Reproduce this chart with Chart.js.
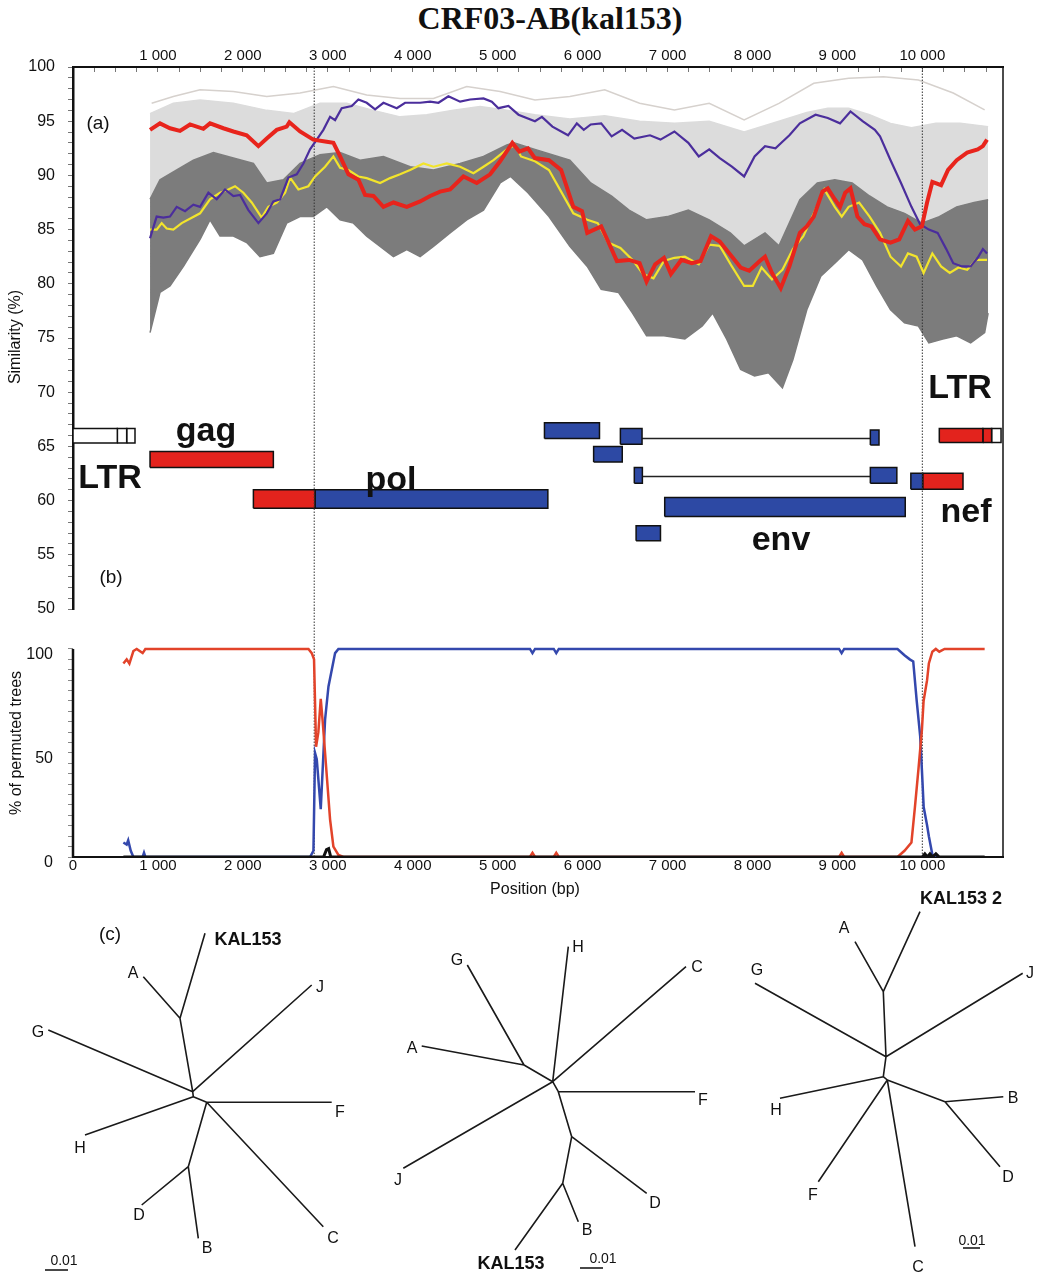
<!DOCTYPE html>
<html>
<head>
<meta charset="utf-8">
<title>CRF03-AB(kal153)</title>
<script src="https://cdn.jsdelivr.net/npm/chart.js@4.4.1/dist/chart.umd.min.js"></script>
<style>
  html, body { margin: 0; padding: 0; background: #fff; }
  #fig { position: relative; width: 1045px; height: 1275px; overflow: hidden;
         font-family: "Liberation Sans", Arial, sans-serif; color: #111; }
  .wrap { position: absolute; left: 0; width: 1045px; }
  .lbl { position: absolute; transform: translate(-50%, -50%); white-space: nowrap; line-height: 1; }
  .gene { font-weight: bold; font-size: 34px; }
  .leaf { font-size: 16px; }
  .kal { font-weight: bold; font-size: 18px; }
  .rot { transform: translate(-50%, -50%) rotate(-90deg); font-size: 16px; }
</style>
</head>
<body>
<div id="fig">
  <div class="lbl" style="left:550px;top:18px;font-family:'Liberation Serif',serif;font-weight:bold;font-size:32px;">CRF03-AB(kal153)</div>

  <div class="wrap" style="top:0;height:625px;"><canvas id="simChart" width="1045" height="625"></canvas></div>
  <div class="wrap" style="top:600px;height:300px;"><canvas id="bootChart" width="1045" height="300"></canvas></div>
  <div class="wrap" style="top:880px;height:395px;"><canvas id="treeChart" width="1045" height="395"></canvas></div>

  <!-- panel and gene labels -->
  <div class="lbl" style="left:98px;top:122px;font-size:19px;">(a)</div>
  <div class="lbl" style="left:111px;top:576px;font-size:19px;">(b)</div>
  <div class="lbl" style="left:110px;top:933px;font-size:19px;">(c)</div>
  <div class="lbl gene" style="left:206px;top:429px;">gag</div>
  <div class="lbl gene" style="left:110px;top:476px;">LTR</div>
  <div class="lbl gene" style="left:391px;top:478px;">pol</div>
  <div class="lbl gene" style="left:781px;top:538px;">env</div>
  <div class="lbl gene" style="left:966px;top:510px;">nef</div>
  <div class="lbl gene" style="left:960px;top:386px;">LTR</div>

  <div class="lbl rot" style="left:15px;top:337px;">Similarity (%)</div>
  <div class="lbl rot" style="left:16px;top:743px;">% of permuted trees</div>
  <div class="lbl" style="left:535px;top:889px;font-size:16px;">Position (bp)</div>

  <!-- tree 1 -->
  <div class="lbl kal" style="left:248px;top:939px;">KAL153</div>
  <div class="lbl leaf" style="left:133px;top:973px;">A</div>
  <div class="lbl leaf" style="left:320px;top:987px;">J</div>
  <div class="lbl leaf" style="left:38px;top:1032px;">G</div>
  <div class="lbl leaf" style="left:340px;top:1112px;">F</div>
  <div class="lbl leaf" style="left:80px;top:1148px;">H</div>
  <div class="lbl leaf" style="left:139px;top:1215px;">D</div>
  <div class="lbl leaf" style="left:207px;top:1248px;">B</div>
  <div class="lbl leaf" style="left:333px;top:1238px;">C</div>
  <div class="lbl" style="left:64px;top:1260px;font-size:14px;">0.01</div>
  <!-- tree 2 -->
  <div class="lbl leaf" style="left:457px;top:960px;">G</div>
  <div class="lbl leaf" style="left:578px;top:947px;">H</div>
  <div class="lbl leaf" style="left:697px;top:967px;">C</div>
  <div class="lbl leaf" style="left:412px;top:1048px;">A</div>
  <div class="lbl leaf" style="left:703px;top:1100px;">F</div>
  <div class="lbl leaf" style="left:398px;top:1180px;">J</div>
  <div class="lbl leaf" style="left:655px;top:1203px;">D</div>
  <div class="lbl leaf" style="left:587px;top:1230px;">B</div>
  <div class="lbl kal" style="left:511px;top:1263px;">KAL153</div>
  <div class="lbl" style="left:603px;top:1258px;font-size:14px;">0.01</div>
  <!-- tree 3 -->
  <div class="lbl kal" style="left:961px;top:898px;">KAL153 2</div>
  <div class="lbl leaf" style="left:844px;top:928px;">A</div>
  <div class="lbl leaf" style="left:757px;top:970px;">G</div>
  <div class="lbl leaf" style="left:1030px;top:973px;">J</div>
  <div class="lbl leaf" style="left:776px;top:1110px;">H</div>
  <div class="lbl leaf" style="left:1013px;top:1098px;">B</div>
  <div class="lbl leaf" style="left:1008px;top:1177px;">D</div>
  <div class="lbl leaf" style="left:813px;top:1195px;">F</div>
  <div class="lbl leaf" style="left:918px;top:1267px;">C</div>
  <div class="lbl" style="left:972px;top:1240px;font-size:14px;">0.01</div>
</div>

<script>
// ---- data: [position bp, value] ----
const X_MAX = 10950;
const breakpoints = [2840, 10000];
const topTicks = [];     // minor ticks every 250 bp, labelled every 1000
for (let v = 0; v <= 10750; v += 250) topTicks.push(v);
const bottomTicks = [0, 1000, 2000, 3000, 4000, 5000, 6000, 7000, 8000, 9000, 10000];

// (a) similarity plot
const simRed = [[907,94.2],[1024,94.8],[1142,94.35],[1260,94.1],[1378,94.7],[1535,94.3],[1613,94.8],[1770,94.35],[1888,94.05],[2045,93.7],[2183,92.7],[2281,93.4],[2399,94.2],[2516,94.5],[2548,94.9],[2673,94.05],[2830,93.3],[2987,93.1],[3066,93.0],[3145,91.75],[3243,90.1],[3360,89.6],[3439,88.2],[3537,88.1],[3655,87.1],[3773,87.5],[3930,87.1],[4087,87.6],[4205,88.1],[4322,88.5],[4440,88.7],[4597,89.9],[4754,89.3],[4911,90.1],[5029,91.3],[5173,93.0],[5255,92.2],[5357,92.5],[5439,91.6],[5604,91.4],[5747,90.5],[5891,87.1],[5993,86.7],[6055,84.7],[6219,85.3],[6301,83.9],[6404,82.1],[6547,82.2],[6671,81.9],[6753,80.2],[6855,81.8],[6958,82.4],[7040,80.9],[7163,82.2],[7286,81.9],[7389,82.1],[7512,84.4],[7615,83.9],[7738,82.7],[7861,81.5],[7963,81.2],[8086,82.1],[8148,82.5],[8230,81.0],[8333,79.6],[8435,81.6],[8558,84.7],[8640,85.3],[8722,86.2],[8825,88.5],[8887,88.8],[8969,87.8],[9031,87.1],[9092,88.4],[9154,88.8],[9236,86.2],[9318,85.5],[9400,85.3],[9502,84.1],[9626,83.8],[9728,84.1],[9831,85.8],[9913,85.0],[9995,85.3],[10056,87.5],[10118,89.4],[10221,89.1],[10303,90.5],[10405,91.4],[10528,92.1],[10652,92.4],[10713,92.7],[10762,93.3]];
const simBlue = [[907,84.2],[985,86.2],[1064,86.1],[1142,86.2],[1221,87.1],[1319,86.7],[1417,87.3],[1496,87.1],[1594,88.4],[1692,87.8],[1790,88.7],[1888,88.1],[1967,88.2],[2065,86.8],[2183,85.6],[2281,86.5],[2359,87.6],[2438,87.8],[2536,89.8],[2634,90.1],[2713,91.1],[2791,92.4],[2870,93.3],[2948,94.2],[3027,95.4],[3086,95.1],[3164,96.2],[3282,96.4],[3360,97.0],[3458,96.7],[3557,96.1],[3655,96.7],[3812,96.2],[3910,96.7],[4087,96.7],[4205,96.8],[4303,96.7],[4420,97.3],[4558,96.8],[4676,97.0],[4833,97.1],[4931,96.8],[5009,96.2],[5127,96.4],[5245,95.6],[5439,95.0],[5521,95.4],[5645,94.5],[5829,93.7],[5932,94.8],[6014,94.2],[6096,94.7],[6219,94.8],[6342,93.6],[6465,94.2],[6609,93.4],[6794,93.7],[6917,93.3],[7081,94.05],[7245,93.0],[7368,91.75],[7491,92.4],[7615,91.6],[7758,90.8],[7902,89.9],[8025,91.75],[8148,92.7],[8271,92.5],[8353,93.1],[8435,93.7],[8558,94.8],[8743,95.6],[8887,95.3],[9031,94.8],[9154,95.9],[9297,95.0],[9441,94.2],[9502,93.6],[9626,91.4],[9749,89.3],[9872,87.1],[9974,85.5],[10077,85.0],[10180,84.7],[10282,83.2],[10364,81.9],[10467,81.6],[10569,81.6],[10652,82.4],[10713,83.2],[10762,82.8]];
const simYellow = [[907,85.0],[985,85.0],[1044,85.6],[1103,85.1],[1181,85.0],[1280,85.6],[1398,86.1],[1496,86.5],[1613,87.8],[1731,88.4],[1829,88.7],[1908,89.0],[2006,88.4],[2104,87.5],[2222,86.1],[2300,87.1],[2399,87.5],[2497,88.4],[2556,89.8],[2654,88.7],[2771,89.0],[2850,89.9],[2968,90.8],[3066,91.75],[3145,90.7],[3243,90.5],[3360,89.9],[3458,89.75],[3616,89.3],[3733,89.75],[3851,90.1],[3969,90.5],[4126,91.1],[4244,90.8],[4401,91.1],[4558,90.8],[4715,90.2],[4833,90.8],[4951,91.4],[5108,92.4],[5206,92.8],[5275,91.75],[5439,91.3],[5604,90.5],[5747,88.5],[5891,86.5],[6055,85.9],[6178,85.6],[6301,83.8],[6445,83.3],[6588,82.2],[6712,80.9],[6835,80.5],[6958,82.1],[7081,82.4],[7204,82.5],[7368,81.8],[7491,83.6],[7615,83.5],[7758,81.6],[7902,79.8],[8004,79.8],[8107,81.5],[8230,80.4],[8353,81.3],[8476,83.2],[8599,84.4],[8722,86.5],[8846,88.7],[8969,87.1],[9051,86.2],[9133,87.1],[9256,87.5],[9379,86.2],[9502,84.7],[9626,82.5],[9749,81.6],[9831,82.8],[9933,82.5],[10015,81.0],[10118,82.8],[10221,81.6],[10323,81.0],[10426,81.5],[10528,81.3],[10631,82.2],[10762,82.2]];
// envelopes of the grey reference comparisons
const darkUpper = [[907,87.8],[1024,89.6],[1221,90.5],[1417,91.4],[1653,92.1],[1888,91.6],[2124,91.1],[2281,89.3],[2477,89.6],[2673,91.1],[2909,91.9],[3145,92.1],[3380,91.4],[3655,91.75],[3969,90.8],[4244,90.5],[4558,91.1],[4833,91.75],[5108,92.8],[5193,93.0],[5439,92.4],[5850,91.4],[6096,89.3],[6342,88.1],[6547,86.8],[6753,85.9],[6999,86.2],[7245,86.8],[7491,85.9],[7738,84.7],[7902,83.5],[8148,84.7],[8312,83.5],[8558,87.75],[8764,89.3],[8969,89.6],[9174,89.3],[9379,88.1],[9585,87.1],[9790,86.5],[9995,85.6],[10200,86.2],[10405,87.1],[10610,87.5],[10775,87.75]];
const darkLower = [[907,75.5],[1024,79.2],[1142,79.8],[1300,81.6],[1496,84.1],[1613,85.9],[1731,84.4],[1888,84.4],[2045,83.8],[2202,82.5],[2359,82.8],[2516,85.6],[2673,86.2],[2830,86.2],[2987,87.1],[3145,85.9],[3302,85.6],[3458,84.4],[3616,83.45],[3773,82.5],[3930,83.15],[4087,82.5],[4244,83.45],[4440,84.7],[4636,85.9],[4833,86.8],[5029,89.3],[5152,89.9],[5357,88.4],[5604,86.2],[5850,83.45],[6055,81.6],[6219,79.5],[6424,79.2],[6588,77.3],[6753,75.2],[6958,75.2],[7204,74.9],[7409,76.1],[7532,77.3],[7697,74.9],[7861,72.1],[8025,71.5],[8189,71.8],[8353,70.4],[8476,73.0],[8640,77.6],[8805,80.7],[8969,81.9],[9133,83.15],[9297,82.2],[9461,79.8],[9626,77.6],[9790,76.4],[9954,76.1],[10077,74.55],[10241,74.9],[10405,75.2],[10569,74.55],[10734,75.5],[10775,77.3]];
const lightTop = [[907,95.7],[1181,96.65],[1496,96.96],[1888,96.65],[2281,96.0],[2595,95.7],[2909,96.65],[3223,96.65],[3537,96.0],[3851,95.4],[4165,95.6],[4479,96.0],[4793,96.35],[5108,96.0],[5439,95.6],[5850,95.2],[6260,95.5],[6671,95.0],[7081,94.8],[7491,95.0],[7902,94.0],[8312,95.0],[8640,95.8],[8887,96.2],[9133,96.2],[9379,95.6],[9626,94.8],[9872,94.4],[10159,94.8],[10446,94.8],[10775,94.5]];
const lightMax = [[926,96.65],[1181,97.27],[1496,97.9],[1888,97.73],[2281,97.27],[2673,97.6],[3066,98.19],[3458,97.42],[3851,97.1],[4244,97.1],[4636,98.19],[5029,97.73],[5439,96.96],[5850,97.27],[6260,97.9],[6671,96.65],[7081,96.04],[7491,96.65],[7902,95.12],[8312,96.65],[8722,98.5],[9133,98.96],[9543,99.1],[9954,98.8],[10364,97.6],[10734,96.04]];

// genome map: [start, end, bottom, top, colour]
const geneBoxes = [
  [0, 522, 65.31, 66.64, 'white'], [522, 632, 65.31, 66.64, 'white'], [632, 730, 65.31, 66.64, 'white'],
  [907, 2359, 63.05, 64.52, 'red'],
  [2124, 2850, 59.3, 60.99, 'red'], [2850, 5591, 59.3, 60.99, 'blue'],
  [5551, 6199, 65.72, 67.19, 'blue'],
  [6130, 6467, 63.56, 64.98, 'blue'],
  [6445, 6700, 65.19, 66.64, 'blue'], [9388, 9490, 65.13, 66.51, 'blue'],
  [6609, 6704, 61.6, 63.05, 'blue'], [9388, 9700, 61.6, 63.05, 'blue'],
  [6630, 6917, 56.29, 57.67, 'blue'],
  [6967, 9799, 58.53, 60.28, 'blue'],
  [9865, 10004, 61.05, 62.52, 'blue'], [10004, 10479, 61.05, 62.52, 'red'],
  [10200, 10713, 65.35, 66.64, 'red'], [10713, 10816, 65.35, 66.64, 'red'], [10816, 10927, 65.35, 66.64, 'white']
];
const spliceLinks = [[[6700, 65.72], [9388, 65.72]], [[6704, 62.22], [9388, 62.22]]];

// (b) bootscan, % of permuted trees
const bootRed = [[593,93],[632,95],[664,93],[711,99],[750,100],[820,98],[852,100],[2772,100],[2811,98],[2838,95],[2862,53],[2889,60],[2917,76],[2940,65],[2968,50],[3027,18],[3066,5],[3125,1],[3184,0],[5380,0],[5410,2],[5440,0],[5660,0],[5690,2],[5720,0],[9020,0],[9050,2],[9080,0],[9708,0],[9790,3],[9872,7],[9913,24],[9954,42],[9995,61],[10015,75],[10056,85],[10077,93],[10118,98.7],[10159,100],[10200,98.7],[10262,100],[10734,100]];
const bootBlue = [[593,7],[632,6],[650,8],[680,3],[711,0],[820,0],[836,2],[852,0],[2791,0],[2831,3],[2850,50],[2870,47],[2917,23],[2968,66],[3008,82],[3047,90],[3086,98],[3125,100],[5380,100],[5410,98],[5440,100],[5660,100],[5690,98],[5720,100],[9020,100],[9050,98],[9080,100],[9708,100],[9790,97],[9852,95],[9893,94],[9934,75],[9975,58],[9995,42],[10016,24],[10057,15],[10077,10],[10119,1],[10160,0]];
const bootOther = [[593,0],[2950,0],[2985,3.5],[3010,4],[3035,0],[10000,0],[10030,1.5],[10060,0],[10090,1.5],[10120,0],[10160,1.5],[10200,0],[10734,0]];

// (c) unrooted trees: node positions on the figure and branches
const tree1Nodes = { cA:[192.7,1091.7], cB:[193.3,1096.7], c2:[206.7,1102.3], up:[180,1018.3], KAL153:[205,933.3], A:[143.3,976.7], J:[311.7,985], G:[48.3,1030], H:[85,1135], F:[331.7,1102.3], C:[323.3,1226.7], low:[188.3,1166.7], D:[141.7,1205], B:[198.3,1238.3] };
const tree1Edges = [['cA','up'],['up','KAL153'],['up','A'],['cA','J'],['cA','G'],['cA','cB'],['cB','H'],['cB','c2'],['c2','F'],['c2','C'],['c2','low'],['low','D'],['low','B']];
const tree2Nodes = { c:[552.7,1081.7], n1:[524,1065], G:[467.3,965], A:[421.7,1046], H:[568.3,946.7], C:[686,966.7], J:[403.3,1168.3], c2:[558.3,1091.7], F:[695,1091.7], n2:[571.7,1136.7], D:[646.7,1193.3], n3:[562.7,1183.3], B:[578.3,1221.7], KAL153:[515,1250] };
const tree2Edges = [['c','n1'],['n1','G'],['n1','A'],['c','H'],['c','C'],['c','J'],['c','c2'],['c2','F'],['c2','n2'],['n2','D'],['n2','n3'],['n3','B'],['n3','KAL153']];
const tree3Nodes = { n1:[883.3,991.7], KAL153_2:[920,911.7], A:[855,941.7], c1:[886,1056.7], G:[755,983.3], J:[1022.7,973.3], c2:[883.3,1076.7], H:[780,1098.3], c3:[887.3,1080], F:[818.3,1181.7], C:[915,1246.7], n4:[945,1101.7], B:[1003.3,1096.7], D:[1000,1166.7] };
const tree3Edges = [['c1','n1'],['n1','KAL153_2'],['n1','A'],['c1','G'],['c1','J'],['c1','c2'],['c2','H'],['c2','c3'],['c3','F'],['c3','C'],['c3','n4'],['n4','B'],['n4','D']];
const scaleBars = [[[45,1270],[68,1270]], [[580,1268],[603,1268]], [[963,1248],[980,1248]]];

// ---- styling ----
const COL = { red: '#e3231d', blue: '#2d49a4', white: '#ffffff' };
const RED = '#e8241c', PURPLE = '#4b2e9c', YELLOW = '#f2e42c';
const DARK = '#7c7c7c', LIGHT = '#dcdcdc', LIGHT_LINE = '#d6d1cd';
const BOOT_RED = '#e2432a', BOOT_BLUE = '#3448ad';

Chart.defaults.font.family = '"Liberation Sans", Arial, sans-serif';
Chart.defaults.color = '#111';
Chart.defaults.animation = false;

const pts = arr => arr.map(([x, y]) => ({ x, y }));
const fmtBp = v => v >= 1000 ? Math.floor(v / 1000) + ' ' + String(v % 1000).padStart(3, '0') : String(v);

function lineDs(data, color, width, order, extra) {
  return Object.assign({ data: pts(data), borderColor: color, borderWidth: width, pointRadius: 0,
    fill: false, tension: 0, order: order }, extra || {});
}

// fixed axis boxes so both panels line up with the picture
const fixX = h => s => { s.height = h; s.paddingLeft = 0; s.paddingRight = 0; };
const fixY = w => s => { s.width = w; s.paddingTop = 0; s.paddingBottom = 0; };
const useTicks = list => s => { s.ticks = list.map(v => ({ value: v })); };

// right frame line (and left axis of the bootscan, which stops at 100 %)
const framePlugin = {
  id: 'frame',
  afterDatasetsDraw(chart, args, opts) {
    const { ctx, chartArea: a, scales } = chart;
    ctx.save();
    ctx.strokeStyle = '#111';
    ctx.lineWidth = 1.5;
    ctx.beginPath();
    ctx.moveTo(a.right, a.top);
    ctx.lineTo(a.right, a.bottom);
    ctx.stroke();
    if (opts.leftTo != null) {
      ctx.lineWidth = 2.5;
      ctx.beginPath();
      ctx.moveTo(a.left, scales.y.getPixelForValue(0));
      ctx.lineTo(a.left, scales.y.getPixelForValue(opts.leftTo));
      ctx.stroke();
    }
    ctx.restore();
  }
};

const baseOpts = {
  responsive: false,
  events: [],
  plugins: { legend: { display: false }, tooltip: { enabled: false } },
  elements: { point: { radius: 0 }, line: { tension: 0 } }
};

// ---- (a) similarity + genome map ----
const simSets = [];
simSets.push(lineDs(simRed, RED, 4, 0));
simSets.push(lineDs(simBlue, PURPLE, 2.2, 1));
simSets.push(lineDs(simYellow, YELLOW, 2.2, 2));
breakpoints.forEach(b => simSets.push(lineDs([[b, 50], [b, 100]], '#333', 1, 3, { borderDash: [1.5, 1.5] })));
geneBoxes.forEach(([x1, x2, y1, y2, c]) => simSets.push(lineDs(
  [[x1, y1], [x1, y2], [x2, y2], [x2, y1], [x1, y1]], '#111', 1.5, 4,
  { fill: 'shape', backgroundColor: COL[c] })));
spliceLinks.forEach(l => simSets.push(lineDs(l, '#222', 1.5, 4)));
const darkLowerIdx = simSets.push(lineDs(darkLower, DARK, 1.5, 7)) - 1;
simSets.push(lineDs(darkUpper, DARK, 1.5, 6, { fill: darkLowerIdx, backgroundColor: DARK }));
simSets.push(lineDs(lightMax, LIGHT_LINE, 1.5, 8));
simSets.push(lineDs(lightTop, LIGHT, 1.5, 9, { fill: darkLowerIdx, backgroundColor: LIGHT }));

new Chart(document.getElementById('simChart'), {
  type: 'line',
  data: { datasets: simSets },
  plugins: [framePlugin],
  options: Object.assign({}, baseOpts, {
    layout: { padding: { left: 0, right: 42, top: 0, bottom: 16 }, autoPadding: false },
    plugins: Object.assign({}, baseOpts.plugins, { frame: {} }),
    scales: {
      x: {
        type: 'linear', position: 'top', min: 0, max: X_MAX,
        afterBuildTicks: useTicks(topTicks),
        afterFit: fixX(67),
        border: { color: '#111', width: 2 },
        grid: { drawOnChartArea: false, tickLength: -5, tickColor: '#777' },
        ticks: { autoSkip: false, maxRotation: 0, padding: 7, font: { size: 15 },
          callback: v => (v > 0 && v % 1000 === 0) ? fmtBp(v) : '' }
      },
      y: {
        type: 'linear', min: 50, max: 100,
        afterFit: fixY(73),
        border: { color: '#111', width: 2.5 },
        grid: { drawOnChartArea: false, tickLength: 5, tickColor: '#777' },
        ticks: { stepSize: 1, autoSkip: false, padding: 13, font: { size: 16 },
          callback: v => v % 5 === 0 ? String(v) : '' }
      }
    }
  })
});

// ---- (b) bootscan ----
const bootSets = [
  lineDs(bootOther, '#111', 3, 0),
  lineDs(bootRed, BOOT_RED, 2.5, 1),
  lineDs(bootBlue, BOOT_BLUE, 2.5, 2)
];
breakpoints.forEach(b => bootSets.push(lineDs([[b, 0], [b, 119.2]], '#333', 1, 3, { borderDash: [1.5, 1.5] })));

new Chart(document.getElementById('bootChart'), {
  type: 'line',
  data: { datasets: bootSets },
  plugins: [framePlugin],
  options: Object.assign({}, baseOpts, {
    layout: { padding: { left: 0, right: 42, top: 9, bottom: 0 }, autoPadding: false },
    plugins: Object.assign({}, baseOpts.plugins, { frame: { leftTo: 100 } }),
    scales: {
      x: {
        type: 'linear', position: 'bottom', min: 0, max: X_MAX,
        afterBuildTicks: useTicks(bottomTicks),
        afterFit: fixX(43),
        border: { color: '#111', width: 2 },
        grid: { drawOnChartArea: false, drawTicks: false },
        ticks: { autoSkip: false, maxRotation: 0, padding: 0, font: { size: 15 }, callback: v => fmtBp(v) }
      },
      y: {
        type: 'linear', min: 0, max: 119.2,
        afterBuildTicks: s => { s.ticks = s.ticks.filter(t => t.value <= 100); },
        afterFit: fixY(73),
        border: { display: false },
        grid: { drawOnChartArea: false, tickLength: 5, tickColor: '#888' },
        ticks: { stepSize: 5, autoSkip: false, padding: 15, labelOffset: 6, font: { size: 16 },
          callback: v => v % 50 === 0 ? String(v) : '' }
      }
    }
  })
});

// ---- (c) trees ----
function treeData(nodes, edges) {
  const out = [];
  edges.forEach(([a, b]) => {
    out.push({ x: nodes[a][0], y: nodes[a][1] }, { x: nodes[b][0], y: nodes[b][1] }, { x: nodes[b][0], y: null });
  });
  return out;
}
const treeSets = [
  [tree1Nodes, tree1Edges], [tree2Nodes, tree2Edges], [tree3Nodes, tree3Edges]
].map(([n, e]) => ({ data: treeData(n, e), borderColor: '#1a1a1a', borderWidth: 1.6, pointRadius: 0, spanGaps: false }));
scaleBars.forEach(bar => treeSets.push(lineDs(bar, '#1a1a1a', 1.6, 0)));

new Chart(document.getElementById('treeChart'), {
  type: 'line',
  data: { datasets: treeSets },
  options: Object.assign({}, baseOpts, {
    layout: { padding: 0, autoPadding: false },
    scales: {
      x: { type: 'linear', min: 0, max: 1045, display: false },
      y: { type: 'linear', min: 880, max: 1275, reverse: true, display: false }
    }
  })
});
</script>
</body>
</html>
